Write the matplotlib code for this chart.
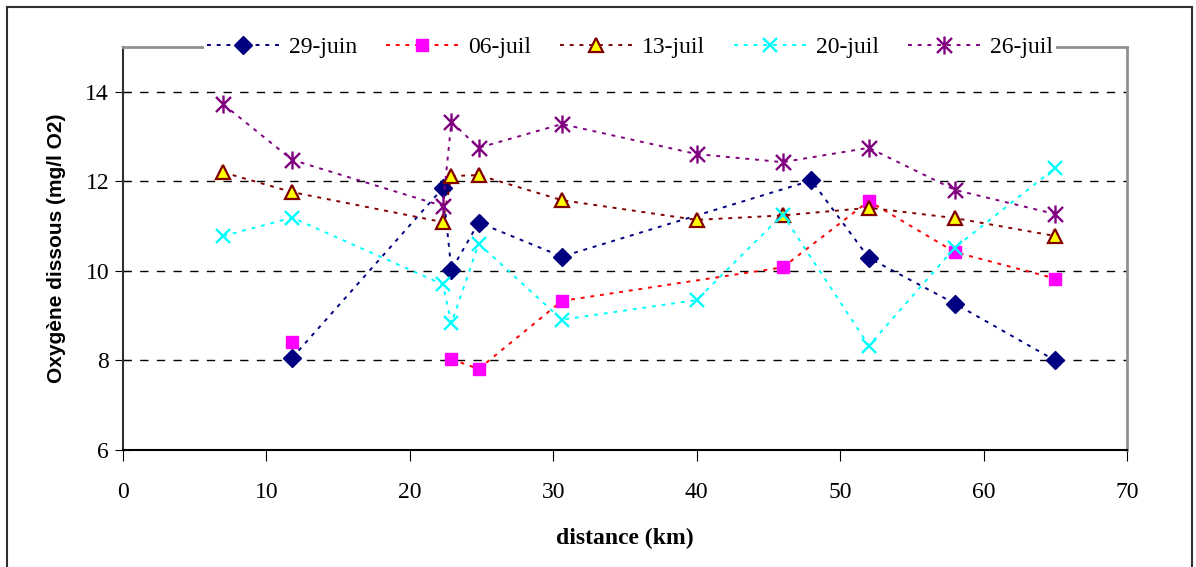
import numpy as np
import matplotlib
matplotlib.use("Agg")
import matplotlib.pyplot as plt
from matplotlib.path import Path

# distance (km) and dissolved oxygen (mg/l O2) per sampling date
x_2906 = [11.8, 22.3, 22.9, 24.8, 30.6, 48.0, 52.0, 58.0, 65.0]
y_2906 = [8.06, 11.85, 10.02, 11.08, 10.32, 12.02, 10.29, 9.27, 8.00]

x_0607 = [11.8, 22.3, 22.9, 24.8, 30.6, 46.0, 52.0, 58.0, 65.0]
y_0607 = [8.42, np.nan, 8.03, 7.81, 9.33, 10.08, 11.56, 10.42, 9.83]

x_1307 = [7.0, 11.8, 22.3, 22.9, 24.8, 30.6, 40.0, 46.0, 52.0, 58.0, 65.0]
y_1307 = [12.20, 11.76, 11.09, 12.12, 12.14, 11.58, 11.14, 11.24, 11.41, 11.18, 10.78]

x_2007 = [7.0, 11.8, 22.3, 22.9, 24.8, 30.6, 40.0, 46.0, 52.0, 58.0, 65.0]
y_2007 = [10.78, 11.19, 9.70, 8.83, 10.61, 8.91, 9.35, 11.26, 8.33, 10.52, 12.30]

x_2607 = [7.0, 11.8, 22.3, 22.9, 24.8, 30.6, 40.0, 46.0, 52.0, 58.0, 65.0]
y_2607 = [13.72, 12.48, 11.45, 13.33, 12.75, 13.28, 12.61, 12.43, 12.75, 11.81, 11.27]

labels = ['29-juin', '06-juil', '13-juil', '20-juil', '26-juil']

# Excel-style star marker: an x with a vertical bar
star = Path([(-1, -1), (1, 1), (-1, 1), (1, -1), (0, -1.2), (0, 1.2)],
            [Path.MOVETO, Path.LINETO, Path.MOVETO, Path.LINETO, Path.MOVETO, Path.LINETO])

plt.rcParams['font.family'] = 'Liberation Serif'

fig = plt.figure(figsize=(11.96, 5.67), dpi=100)
ax = fig.add_axes([0.1028, 0.2063, 0.8395, 0.7107])

ls = (0, (2, 3))
ax.plot(x_2906, y_2906, color='#000080', ls=ls, lw=1.4, marker='D', ms=9,
        mfc='#000080', mec='#000080', label=labels[0])
ax.plot(x_0607, y_0607, color='#FF0000', ls=ls, lw=1.4, marker='s', ms=8.5,
        mfc='#FF00FF', mec='#FF00FF', label=labels[1])
ax.plot(x_1307, y_1307, color='#800000', ls=ls, lw=1.4, marker='^', ms=10,
        mfc='#FFFF00', mec='#800000', mew=1.6, label=labels[2])
ax.plot(x_2007, y_2007, color='#00FFFF', ls=ls, lw=1.4, marker='x', ms=10,
        mec='#00FFFF', mew=1.7, label=labels[3])
ax.plot(x_2607, y_2607, color='#800080', ls=ls, lw=1.4, marker=star, ms=13,
        mec='#800080', mew=1.7, label=labels[4])

ax.set_xlim(0, 70)
ax.set_ylim(6, 15)
ax.set_xticks(range(0, 71, 10))
ax.set_yticks(range(6, 15, 2))
ax.tick_params(axis='x', direction='out', length=8, labelsize=17, pad=15)
ax.tick_params(axis='y', direction='inout', length=12, labelsize=17, pad=4)
ax.yaxis.grid(True, color='black', ls=(0, (6, 6)), lw=1)
ax.set_axisbelow(True)

for s in ['top', 'right']:
    ax.spines[s].set_color('#909090')
    ax.spines[s].set_linewidth(2)
ax.spines['left'].set_color('#303030')
ax.spines['left'].set_linewidth(1.5)
ax.spines['bottom'].set_color('black')
ax.spines['bottom'].set_linewidth(1.5)

ax.set_ylabel('Oxygène dissous (mg/l O2)', family='Liberation Sans',
              fontweight='bold', fontsize=15, labelpad=14)
ax.set_xlabel('distance (km)', fontweight='bold', fontsize=17, labelpad=18)

leg = ax.legend(loc='center', bbox_to_anchor=(0.505, 1.0), ncol=5,
                fontsize=17, frameon=True, facecolor='white', edgecolor='none',
                fancybox=False, handlelength=3.1, handletextpad=0.4,
                columnspacing=1.2, borderpad=0.1, framealpha=1)

# chart area border
fig.add_artist(plt.Line2D([7 / 1196, 7 / 1196], [0, 1 - 7 / 567], color='#303030',
                          lw=1.5, transform=fig.transFigure))
fig.add_artist(plt.Line2D([7 / 1196, 1192 / 1196], [1 - 7 / 567, 1 - 7 / 567],
                          color='#303030', lw=1.5, transform=fig.transFigure))
fig.add_artist(plt.Line2D([1192 / 1196, 1192 / 1196], [0, 1 - 7 / 567], color='#303030',
                          lw=1.5, transform=fig.transFigure))

fig.savefig('out.png', dpi=100)
